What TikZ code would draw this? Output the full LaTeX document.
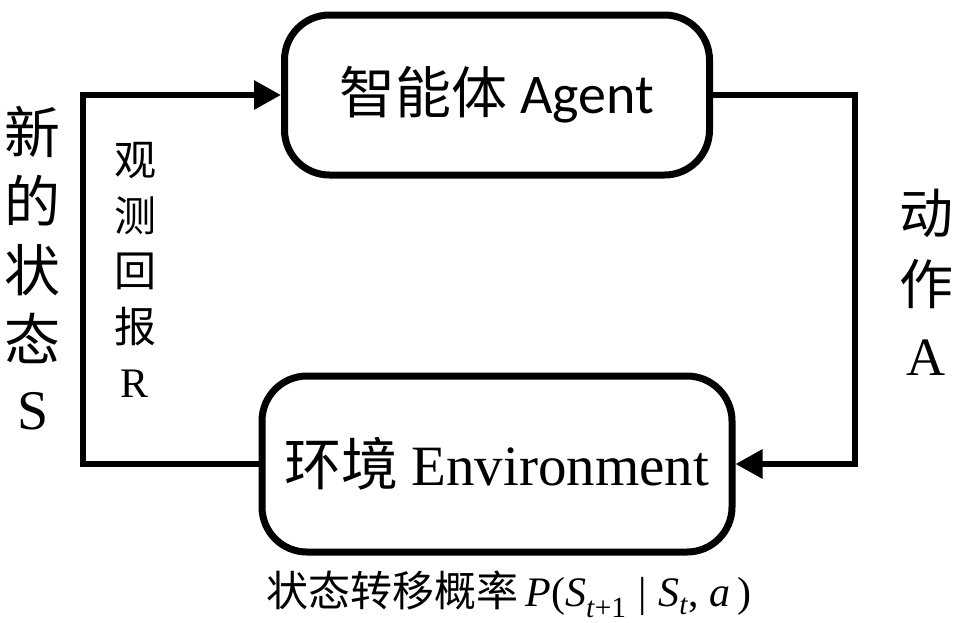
\documentclass[tikz,border=0pt]{standalone}
\usepackage{fontspec}
\setmainfont{Liberation Serif}
\newfontfamily\cjk{Noto Sans CJK SC}
\newfontfamily\calib{Carlito}
\usetikzlibrary{positioning}
\usetikzlibrary{arrows.meta}

\begin{document}
\begin{tikzpicture}[x=1pt,y=-1pt,box/.style={draw,line width=7pt,rounded corners=45pt,inner sep=0pt}, flow/.style={line width=6pt,-{Triangle[length=27pt,width=28pt]}}, stack/.style={align=center,inner sep=0pt}]
	\useasboundingbox (0,0) rectangle (960,622);
	
	\node[box,minimum width=425pt,minimum height=160pt] (agent) at (497,95) {\fontsize{56}{60}\selectfont\cjk 智能体 \calib Agent};
	\node[box,minimum width=470pt,minimum height=176pt] (env) at (497,464) {\fontsize{57}{60}\selectfont\cjk 环境 \rmfamily Environment};
	
	\node[stack,font=\fontsize{56}{69}\selectfont] (state) at (33,268) {{\cjk 新}\\{\cjk 的}\\{\cjk 状}\\{\cjk 态}\\S};
	\node[stack,font=\fontsize{42}{55.5}\selectfont] (reward) at (135,270) {{\cjk 观}\\{\cjk 测}\\{\cjk 回}\\{\cjk 报}\\R};
	\node[stack,font=\fontsize{54}{71}\selectfont] (action) at (926,282) {{\cjk 动}\\{\cjk 作}\\A};
	
	\node[inner sep=0pt,font=\fontsize{42}{46}\selectfont] (trans) at (509,594) {{\cjk 状态转移概率}\,\textit{P}(\textit{S}\textsubscript{\textit{t}+1}\;|\;\textit{S}\textsubscript{\textit{t}}, \textit{a}\,)};
	
	\coordinate (lbend) at (83,95);
	\coordinate (rbend) at (855,95);
	
	\draw[flow] (env.west) -| (lbend) -- (agent.west);
	\draw[flow] (agent.east) -- (rbend) |- (env.east);
\end{tikzpicture}
\end{document}
